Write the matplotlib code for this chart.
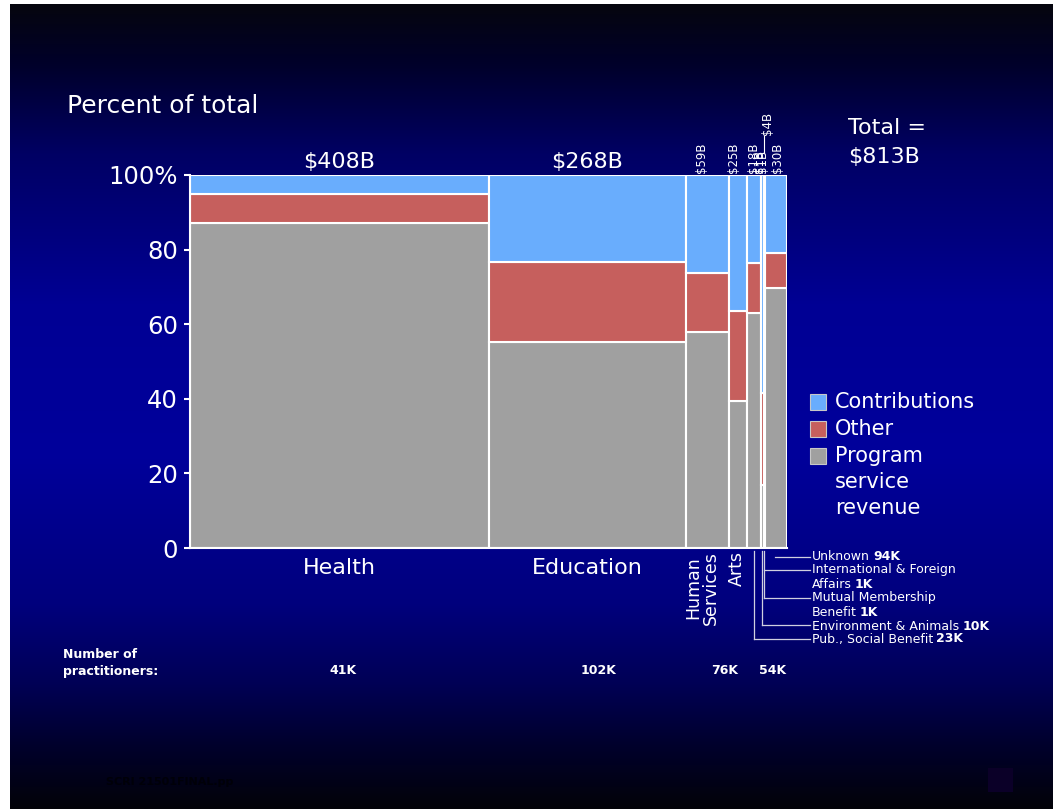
import numpy as np
import matplotlib
matplotlib.use("Agg")
import matplotlib.pyplot as plt
from matplotlib.patches import Rectangle
from matplotlib.lines import Line2D

# --- data ---
categories = ["Health", "Education", "Human Services", "Arts",
              "Pub., Social Benefit", "Environment & Animals",
              "Mutual Membership Benefit", "International & Foreign Affairs",
              "Unknown"]
revenue_b = [408, 268, 59, 25, 18, 4, 1, 1, 30]          # $B, bar widths
program_pct = [87.2, 55.2, 58.0, 39.4, 63.1, 17.0, 60.0, 60.0, 69.6]
other_pct = [7.7, 21.5, 15.7, 24.2, 13.4, 24.5, 10.0, 10.0, 9.6]
revenue_labels = ["$408B", "$268B", "$59B", "$25B", "$18B", "$4B", "$1B", "$1B", "$30B"]
practitioners = ["41K", "102K", "76K", "54K", "23K", "10K", "1K", "1K", "94K"]
total_label = "$813B"
yticks = [0, 20, 40, 60, 80, 100]
ytick_labels = ["0", "20", "40", "60", "80", "100%"]

BLUE = "#69adfd"
RED = "#c65f5d"
GRAY = "#a0a0a0"

W, H = 1053, 809
AX_L, AX_R, AX_T, AX_B = 190, 787, 175, 548


def fx(px):
    return px / W


def fy(py):
    return 1 - py / H


fig = plt.figure(figsize=(W / 100, H / 100), dpi=100, facecolor="white")

# --- background gradient ---
stops_y = [0, 60, 150, 300, 450, 600, 680, 740, 805]
stops_b = [14, 42, 100, 148, 155, 125, 85, 45, 8]
stops_r = [6, 0, 0, 0, 0, 0, 0, 0, 3]
rows = np.arange(0, 806)
b = np.interp(rows, stops_y, stops_b) / 255
r = np.interp(rows, stops_y, stops_r) / 255
grad = np.stack([r, r, b], axis=1)[:, None, :]
bg = fig.add_axes([10 / W, 0, 1 - 10 / W, 805 / H], zorder=-10)
bg.imshow(grad, aspect="auto", extent=[0, 1, 0, 1])
bg.axis("off")

# --- main mekko axes ---
total = sum(revenue_b)
ax = fig.add_axes([fx(AX_L), fy(AX_B), (AX_R - AX_L) / W, (AX_B - AX_T) / H])
ax.set_facecolor("none")
ax.set_xlim(0, total)
ax.set_ylim(0, 100)

lefts = np.concatenate([[0], np.cumsum(revenue_b)[:-1]])
prog = np.array(program_pct)
oth = np.array(other_pct)
contrib = 100 - prog - oth
kw = dict(align="edge", edgecolor="white", linewidth=1.5, zorder=2)
ax.bar(lefts, prog, width=revenue_b, bottom=0, color=GRAY, **kw)
ax.bar(lefts, oth, width=revenue_b, bottom=prog, color=RED, **kw)
ax.bar(lefts, contrib, width=revenue_b, bottom=prog + oth, color=BLUE, **kw)

ax.set_xticks([])
ax.set_yticks(yticks)
ax.set_yticklabels(ytick_labels)
ax.tick_params(axis="y", colors="white", labelsize=17.5, length=4.5, width=1.5, pad=4)
for s in ["top", "right"]:
    ax.spines[s].set_visible(False)
for s in ["left", "bottom"]:
    ax.spines[s].set_color("white")
    ax.spines[s].set_linewidth(1.5)
    ax.spines[s].set_zorder(3)

centers = lefts + np.array(revenue_b) / 2


def center_px(i):
    return AX_L + centers[i] / total * (AX_R - AX_L)


# revenue labels: big ones horizontal, small ones rotated
for i in range(2):
    fig.text(fx(center_px(i)), fy(172), revenue_labels[i], color="white",
             fontsize=16, ha="center", va="bottom")
rot_x = {2: 701, 3: 733, 4: 753, 6: 759.5, 7: 762.5, 8: 778}
for i, x in rot_x.items():
    fig.text(fx(x), fy(173), revenue_labels[i], color="white", fontsize=8.5,
             rotation=90, ha="center", va="bottom")
# raised label with leader
fig.text(fx(767), fy(135), revenue_labels[5], color="white", fontsize=8.5,
         rotation=90, ha="center", va="bottom")
fig.add_artist(Line2D([fx(764), fx(764)], [fy(136), fy(152)],
                      transform=fig.transFigure, color="white", lw=0.8))

# category labels
for i in range(2):
    fig.text(fx(center_px(i)), fy(558), categories[i], color="white",
             fontsize=16, ha="center", va="top")
fig.text(fx(702), fy(551), "Human\nServices", color="white", fontsize=12.5,
         rotation=90, ha="center", va="top", multialignment="center",
         linespacing=1.0)
fig.text(fx(737), fy(551), categories[3], color="white", fontsize=12.5,
         rotation=90, ha="center", va="top")

# callouts for small categories
LINE_C = "#d0d0e0"
TX = 812
renderer = fig.canvas.get_renderer()


def callout_text(y, text, num=None):
    t = fig.text(fx(TX), fy(y), text, color="white", fontsize=9,
                 ha="left", va="center")
    if num:
        bb = t.get_window_extent(renderer=renderer)
        fig.text(fx(bb.x1 + 3), fy(y), num, color="white", fontsize=9,
                 fontweight="bold", ha="left", va="center")


def hline(x0, x1, y):
    fig.add_artist(Line2D([fx(x0), fx(x1)], [fy(y), fy(y)],
                          transform=fig.transFigure, color=LINE_C, lw=0.9))


def vline(x, y0, y1):
    fig.add_artist(Line2D([fx(x), fx(x)], [fy(y0), fy(y1)],
                          transform=fig.transFigure, color=LINE_C, lw=0.9))


# Unknown
hline(center_px(8) - 1, TX - 2, 557)
callout_text(557, "Unknown", practitioners[8])
# International & Foreign Affairs / Mutual Membership Benefit
xm = (center_px(6) + center_px(7)) / 2
vline(xm, 551, 598)
hline(xm, TX - 2, 570)
hline(xm, TX - 2, 598)
callout_text(570, "International & Foreign")
callout_text(584, "Affairs", practitioners[7])
callout_text(598, "Mutual Membership")
callout_text(612, "Benefit", practitioners[6])
# Environment & Animals
vline(center_px(5) - 0.5, 551, 625)
hline(center_px(5) - 0.5, TX - 2, 625)
callout_text(626, "Environment & Animals", practitioners[5])
# Pub., Social Benefit
vline(center_px(4), 551, 639)
hline(center_px(4), TX - 2, 639)
callout_text(639, "Pub., Social Benefit", practitioners[4])

# number of practitioners row
fig.text(fx(63), fy(655), "Number of", color="white", fontsize=9,
         fontweight="bold", ha="left", va="center")
fig.text(fx(63), fy(671), "practitioners:", color="white", fontsize=9,
         fontweight="bold", ha="left", va="center")
for x, lab in zip([343, 598, 725, 773], practitioners[:4]):
    fig.text(fx(x), fy(671), lab, color="white", fontsize=9,
             fontweight="bold", ha="center", va="center")

# titles
fig.text(fx(67), fy(106), "Percent of total", color="white", fontsize=18,
         ha="left", va="center")
fig.text(fx(848), fy(128), "Total =", color="white", fontsize=16,
         ha="left", va="center")
fig.text(fx(848), fy(157), total_label, color="white", fontsize=16,
         ha="left", va="center")

# legend
leg = [(BLUE, ["Contributions"]), (RED, ["Other"]),
       (GRAY, ["Program", "service", "revenue"])]
y0 = 402
for col, lines in leg:
    fig.patches.append(Rectangle((fx(810), fy(y0 + 8)), 16 / W, 16 / H,
                                 transform=fig.transFigure, facecolor=col,
                                 edgecolor="#c8c8c8", lw=0.8))
    for j, ln in enumerate(lines):
        fig.text(fx(835), fy(y0 + j * 26), ln, color="white", fontsize=15,
                 ha="left", va="center")
    y0 += 27

# footer bits
fig.text(fx(106), fy(782), "SCRI 21501FINAL.pp", color="#000008", fontsize=8,
         fontweight="bold", ha="left", va="center")
fig.patches.append(Rectangle((fx(988), fy(792)), 25 / W, 24 / H,
                             transform=fig.transFigure, facecolor="#0b0028",
                             edgecolor="none"))

fig.savefig("out.png", dpi=100, facecolor=fig.get_facecolor())
